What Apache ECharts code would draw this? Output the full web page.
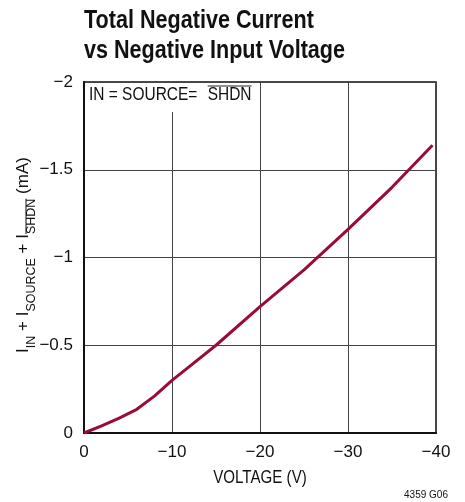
<!DOCTYPE html>
<html>
<head>
<meta charset="utf-8">
<script src="https://cdn.jsdelivr.net/npm/echarts@6/dist/echarts.min.js"></script>
<style>
  html, body { margin: 0; padding: 0; background: #fff; }
  #main { width: 465px; height: 502px; }
</style>
</head>
<body>
<div id="main"></div>
<script>
// curve
var voltage = [0, -2, -4, -6, -8, -10, -12, -15, -20, -25, -30, -35, -39.6]
var current = [0, -0.04, -0.085, -0.135, -0.21, -0.30, -0.38, -0.50, -0.72, -0.93, -1.16, -1.40, -1.64]

var xTicks = { min: -40, max: 0, step: 10 }
var yTicks = { min: -2, max: 0, step: 0.5 }

var FONT = '"Liberation Sans", Arial, sans-serif'
var lineColor = '#9b0b37'

function minus(v) {
  return v == 0 ? '0' : String(v).replace('-', '\u2212')
}

// y axis name with subscripts, laid out by hand since echarts has no overline
var nameParts = [
  { t: 'I', sub: false },
  { t: 'IN', sub: true },
  { t: ' + I', sub: false },
  { t: 'SOURCE', sub: true },
  { t: ' + I', sub: false },
  { t: 'SHDN', sub: true, over: true },
  { t: ' (mA)', sub: false }
]

function buildYName() {
  var ctx = document.createElement('canvas').getContext('2d')
  var mainSize = 17, subSize = 12.5
  var x = 0
  var kids = []
  nameParts.forEach(function (p) {
    var size = p.sub ? subSize : mainSize
    ctx.font = size + 'px ' + FONT
    var w = ctx.measureText(p.t).width
    kids.push({
      type: 'text', x: x, y: p.sub ? 9 : 0,
      style: { text: p.t, font: size + 'px ' + FONT, fill: '#111', verticalAlign: 'middle', align: 'left' }
    })
    if (p.over) {
      kids.push({
        type: 'line', shape: { x1: x, y1: 3, x2: x + w, y2: 3 },
        style: { stroke: '#111', lineWidth: 1 }
      })
    }
    x += w
  })
  return { type: 'group', rotation: Math.PI / 2, x: 23, y: 255 + x / 2, children: kids }
}

var chart = echarts.init(document.getElementById('main'), null, { renderer: 'canvas' })

chart.setOption({
  animation: false,
  backgroundColor: '#fff',
  grid: {
    left: 84, right: 29, top: 82, bottom: 69,
    show: true, borderColor: '#111', borderWidth: 1.5
  },
  xAxis: {
    type: 'value',
    min: xTicks.min, max: xTicks.max, interval: xTicks.step,
    inverse: true,
    axisLine: { lineStyle: { color: '#111', width: 2 } },
    axisTick: { show: false },
    axisLabel: { margin: 11, fontFamily: FONT, fontSize: 17, color: '#111', formatter: minus },
    splitLine: { lineStyle: { color: '#444', width: 1 } }
  },
  yAxis: {
    type: 'value',
    min: yTicks.min, max: yTicks.max, interval: yTicks.step,
    inverse: true,
    axisLine: { lineStyle: { color: '#111', width: 2 } },
    axisTick: { show: false },
    axisLabel: { margin: 11, fontFamily: FONT, fontSize: 17, color: '#111', formatter: minus },
    splitLine: { lineStyle: { color: '#444', width: 1 } }
  },
  series: [{
    type: 'line',
    data: voltage.map(function (v, i) { return [v, current[i]] }),
    showSymbol: false,
    lineStyle: { color: lineColor, width: 3 },
    z: 3
  }],
  graphic: [
    // condensed bold title (no narrow font installed, so squeeze it)
    { type: 'group', x: 84, y: 0, scaleX: 0.83, children: [
      { type: 'text', x: 0, y: 21, style: { text: 'Total Negative Current', font: 'bold 26px ' + FONT, fill: '#111', verticalAlign: 'middle' } },
      { type: 'text', x: 0, y: 51, style: { text: 'vs Negative Input Voltage', font: 'bold 26px ' + FONT, fill: '#111', verticalAlign: 'middle' } }
    ] },
    // x axis name
    { type: 'group', x: 260, y: 478, scaleX: 0.84, children: [
      { type: 'text', style: { text: 'VOLTAGE (V)', font: '18px ' + FONT, fill: '#111', align: 'center', verticalAlign: 'middle' } }
    ] },
    buildYName(),
    // label box in the top-left corner of the plot
    { type: 'rect', shape: { x: 85, y: 83, width: 170, height: 29 }, style: { fill: '#fff' }, z: 10 },
    { type: 'group', x: 89, y: 95, scaleX: 0.86, z: 11, children: [
      { type: 'text', x: 0, y: 0, z: 11,
        style: { text: 'IN = SOURCE=', font: '18px ' + FONT, fill: '#111', verticalAlign: 'middle' } },
      { type: 'text', x: 138, y: 0, z: 11,
        style: { text: 'SHDN', font: '18px ' + FONT, fill: '#111', verticalAlign: 'middle' } },
      { type: 'line', z: 11, shape: { x1: 138, y1: -9, x2: 189, y2: -9 }, style: { stroke: '#111', lineWidth: 1 } }
    ] },
    { type: 'text', x: 426, y: 495, z: 11,
      style: { text: '4359 G06', font: '10px ' + FONT, fill: '#111', align: 'center', verticalAlign: 'middle' } }
  ]
})
</script>
</body>
</html>
